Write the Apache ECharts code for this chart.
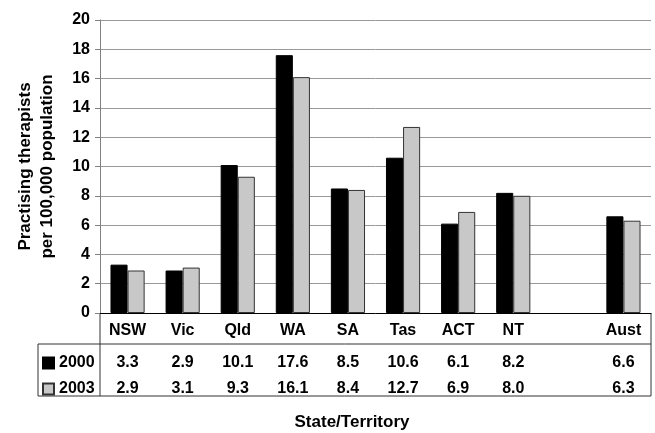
<!DOCTYPE html>
<html>
<head>
<meta charset="utf-8">
<script src="https://cdn.jsdelivr.net/npm/echarts@6/dist/echarts.min.js"></script>
<style>
html,body{margin:0;padding:0;background:#fff;}
#chart{width:655px;height:433px;}
</style>
</head>
<body>
<div id="chart"></div>
<script>
const categories = ['NSW', 'Vic', 'Qld', 'WA', 'SA', 'Tas', 'ACT', 'NT', '', 'Aust'];
const values2000 = [3.3, 2.9, 10.1, 17.6, 8.5, 10.6, 6.1, 8.2, null, 6.6];
const values2003 = [2.9, 3.1, 9.3, 16.1, 8.4, 12.7, 6.9, 8.0, null, 6.3];
const seriesNames = ['2000', '2003'];
const yTicks = { min: 0, max: 20, interval: 2 };
const yTitle = 'Practising therapists\nper 100,000 population';
const xTitle = 'State/Territory';

const FONT = '"Liberation Sans", Arial, sans-serif';
const G = { left: 100, right: 4, top: 20, bottom: 120 };
const W = 655, H = 433;
const gx0 = G.left, gx1 = W - G.right, gy1 = H - G.bottom;
const tableLeft = 38, rowLine = 344, tableBottom = 396;

function fmt(arr) {
  return function (v, i) { return arr[i] == null ? '' : arr[i].toFixed(1); };
}
const labelBase = { fontFamily: FONT, fontWeight: 'bold', fontSize: 16, color: '#000' };

const chart = echarts.init(document.getElementById('chart'), null, { renderer: 'canvas' });
chart.setOption({
  animation: false,
  backgroundColor: '#fff',
  grid: { left: G.left, right: G.right, top: G.top, bottom: G.bottom, containLabel: false },
  legend: {
    orient: 'vertical', left: 42, top: 355, itemGap: 10, padding: 0,
    itemWidth: 11, itemHeight: 11, icon: 'rect', itemTextGap: 5,
    textStyle: Object.assign({}, labelBase),
    data: seriesNames
  },
  xAxis: [
    {
      type: 'category', data: categories, position: 'bottom',
      axisLine: { show: true, lineStyle: { color: '#000', width: 1 } },
      axisTick: { show: false },
      axisLabel: Object.assign({ interval: 0, margin: 10 }, labelBase)
    },
    {
      type: 'category', data: categories, position: 'bottom', offset: 42,
      axisLine: { show: false }, axisTick: { show: false },
      axisLabel: Object.assign({ interval: 0, margin: 0, formatter: fmt(values2000) }, labelBase)
    },
    {
      type: 'category', data: categories, position: 'bottom', offset: 68,
      axisLine: { show: false }, axisTick: { show: false },
      axisLabel: Object.assign({ interval: 0, margin: 0, formatter: fmt(values2003) }, labelBase)
    }
  ],
  yAxis: {
    type: 'value', min: yTicks.min, max: yTicks.max, interval: yTicks.interval,
    name: yTitle, nameLocation: 'middle', nameRotate: 90, nameGap: 42,
    nameTextStyle: { fontFamily: FONT, fontWeight: 'bold', fontSize: 17, color: '#000', lineHeight: 22 },
    axisLine: { show: true, lineStyle: { color: '#808080', width: 1 } },
    axisTick: { show: true, length: 5, lineStyle: { color: '#808080' } },
    axisLabel: Object.assign({ margin: 10 }, labelBase),
    splitLine: { show: true, lineStyle: { color: '#999999', width: 1 } }
  },
  series: [
    {
      name: seriesNames[0], type: 'bar', xAxisIndex: 0, data: values2000,
      barGap: '0%', barCategoryGap: '38%',
      itemStyle: { color: '#000000', borderColor: '#000', borderWidth: 1 }
    },
    {
      name: seriesNames[1], type: 'bar', xAxisIndex: 0, data: values2003,
      barGap: '0%', barCategoryGap: '38%',
      itemStyle: { color: '#c8c8c8', borderColor: '#333', borderWidth: 1 }
    }
  ],
  graphic: [
    { type: 'line', shape: { x1: gx0, y1: gy1, x2: gx0, y2: tableBottom }, style: { stroke: '#333', lineWidth: 1 } },
    { type: 'line', shape: { x1: gx1, y1: gy1, x2: gx1, y2: tableBottom }, style: { stroke: '#333', lineWidth: 1 } },
    { type: 'line', shape: { x1: tableLeft, y1: rowLine, x2: gx1, y2: rowLine }, style: { stroke: '#333', lineWidth: 1 } },
    { type: 'line', shape: { x1: tableLeft, y1: tableBottom, x2: gx1, y2: tableBottom }, style: { stroke: '#333', lineWidth: 1 } },
    { type: 'line', shape: { x1: tableLeft, y1: rowLine, x2: tableLeft, y2: tableBottom }, style: { stroke: '#333', lineWidth: 1 } },
    { type: 'text', style: { text: xTitle, x: 352, y: 422, align: 'center', verticalAlign: 'middle',
      font: 'bold 17px ' + FONT, fill: '#000' } }
  ]
});
</script>
</body>
</html>
